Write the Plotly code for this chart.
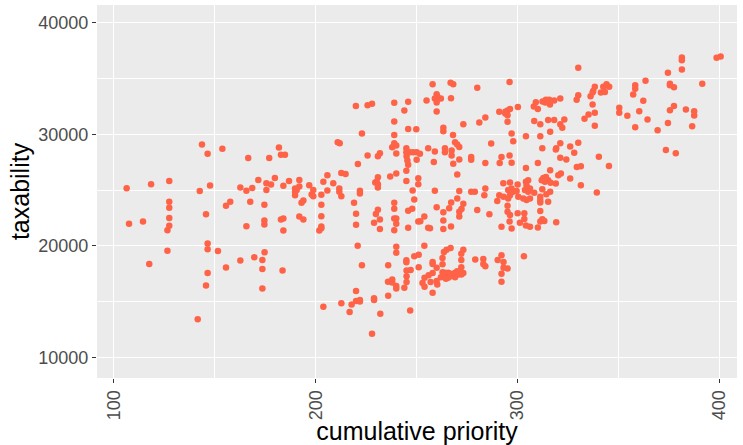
import plotly.graph_objects as go

cumulative_priority = [
    143.7, 153.8,
    146.5, 166.6, 177.0, 106.4, 118.5, 127.5, 147.7, 142.6, 162.7, 165.7, 168.6, 171.6, 175.6, 175.6,
    127.5, 127.5, 155.6, 157.7, 167.6, 174.6, 127.5, 127.5, 126.6, 107.6, 114.5, 145.7, 165.7, 174.6, 174.6, 146.5,
    126.6, 146.5, 151.6, 117.6, 146.5, 155.6, 162.7, 169.6, 173.6, 174.7, 173.6, 145.7, 173.6, 141.6,
    219.9, 225.7, 227.9, 238.9, 245.8, 254.9, 243.9, 238.9, 222.9, 245.8, 249.8, 238.9, 210.9, 211.9, 238.9, 239.9,
    237.9, 181.8, 244.9, 255.7,
    182.8, 184.8, 225.7, 230.8, 231.8, 220.9, 239.9, 244.9, 246.7, 248.3, 250.0, 251.6, 245.0, 245.4, 250.0, 245.8,
    244.9, 179.8, 177.9, 186.8, 191.9, 184.0, 191.9, 196.8, 205.8, 203.8, 208.7, 212.7, 214.8, 230.8, 230.2, 230.8,
    229.5, 230.8, 236.9, 239.9, 244.9, 250.8, 250.8, 189.8, 189.8, 189.8, 190.6, 198.8, 198.0, 198.8, 202.8, 205.8,
    211.7, 211.7, 212.7, 221.9, 221.9, 248.0, 248.8, 193.9, 193.0, 202.8, 219.0, 238.9, 238.9, 245.8, 247.8, 230.8,
    229.8, 220.0, 202.8, 191.9, 193.9, 182.8, 184.0, 231.8, 238.9, 239.9, 228.9, 239.9, 250.8, 251.8, 253.8, 220.0,
    202.8, 202.8, 201.8, 184.0, 231.8, 238.9, 245.8, 255.7, 220.8, 239.9, 253.8,
    239.9, 183.6, 222.9, 235.9, 244.9, 244.9, 248.8, 251.0, 251.0, 245.0, 247.0, 245.0, 245.0, 235.8, 237.9, 237.9,
    239.9, 239.9, 243.9, 253.9, 255.9, 252.9, 253.9, 220.0, 212.7, 217.8, 220.0, 221.9, 221.9, 203.8, 216.8, 228.9,
    228.9, 235.9, 232.0, 246.8, 227.9,
    330.0, 257.9, 266.8, 268.1, 296.0, 280.0, 259.9, 259.0, 260.7, 262.0, 259.9, 260.2, 267.0, 259.9, 329.2, 330.0,
    321.1, 318.1, 312.3, 314.0, 315.6, 313.7, 316.0, 309.0, 308.0, 310.0, 300.1, 290.9, 293.9, 295.0, 296.2, 295.0,
    293.9, 284.0, 281.0, 273.1, 295.0, 308.2, 315.1, 318.1, 311.2, 323.1, 321.1, 322.1, 316.1, 263.2, 263.2, 268.0,
    297.0, 297.8, 304.1, 311.2, 286.9, 269.0, 270.1, 271.1, 264.0, 312.2, 319.1, 321.1, 326.0, 330.0,
    259.0, 264.0, 267.3, 267.3, 268.1, 258.5, 271.1, 277.0, 277.0, 284.0, 291.1, 292.0, 296.0, 297.0, 318.9, 328.0,
    321.1, 324.1, 310.0, 304.1, 329.3, 270.1, 316.1, 321.4, 320.1, 326.0, 312.7, 314.0, 315.1, 313.5, 311.9, 316.3,
    318.9, 304.1, 305.2, 304.4, 306.1, 303.6, 305.2, 300.0, 296.2, 292.9, 297.0, 295.3, 297.8, 299.5, 296.2, 295.3,
    300.3, 302.8, 304.4, 306.1, 308.2, 312.2, 311.2, 311.2, 311.2, 314.2, 316.1, 315.1, 259.0, 271.1, 277.0, 278.8,
    284.0, 283.5, 290.9, 289.9, 293.0, 267.1, 266.1, 270.1, 273.1, 272.2, 271.1, 259.9, 263.2, 280.0, 286.0, 295.0,
    295.0, 296.2, 300.0, 303.3, 303.3, 311.2, 312.2, 313.2, 311.2, 319.1, 263.2, 271.1, 296.0, 301.1, 304.1, 306.1,
    310.0, 292.0, 297.0, 267.0, 263.2, 256.6,
    263.5, 264.8, 266.8, 273.1, 272.1, 257.9, 257.9, 262.8, 262.8, 272.1, 272.1, 259.9, 257.9, 256.9, 259.9, 260.2,
    257.9, 262.8, 264.0, 265.6, 266.8, 262.0, 264.0, 264.5, 265.6, 266.8, 269.0, 269.0, 270.1, 271.1, 273.1, 272.1,
    270.6, 279.0, 283.0, 283.0, 284.0, 290.1, 292.0, 293.0, 293.0, 295.0, 292.0, 292.0, 303.1,
    381.3, 381.3, 398.5, 400.5, 381.3, 374.4, 363.3, 358.2, 358.2, 357.2, 375.4, 375.4, 377.4, 391.4, 338.2, 337.4,
    337.1, 342.4, 344.0, 345.3, 341.2, 343.2, 336.1, 362.2, 337.1, 350.3, 350.3, 360.2, 375.4, 377.4, 383.3, 387.4,
    387.4, 338.2, 335.1, 333.1, 354.3, 364.3, 338.2, 358.2, 369.3, 374.4, 386.4,
    373.4, 378.3, 340.2, 345.2, 331.3, 331.3, 339.2,
]

taxability = [
    29080, 28700,
    28250, 27870, 27870, 25170, 25530, 25820, 25410, 24910, 25230, 24940, 25200, 25910, 25620, 25000,
    23960, 23430, 23600, 23960, 23960, 23690, 22510, 21800, 21410, 21980, 22180, 22830, 21770, 22270, 21920, 20230,
    19580, 19700, 19550, 18390, 17570, 18070, 18690, 18990, 18750, 19430, 17950, 16470, 16200, 13450,
    32540, 32600, 32720, 32810, 32900, 33020, 32130, 31150, 30060, 30470, 30440, 29940, 29290, 29200, 29200, 28990,
    28840, 28810, 28750, 28750,
    28160, 28160, 28100, 28040, 28310, 27330, 28280, 28400, 28400, 28400, 28400, 28250, 28040, 27660, 27720, 27270,
    26740, 26090, 25500, 25820, 25910, 25380, 25320, 25440, 26330, 25740, 25620, 26530, 26450, 26150, 25740, 25530,
    25680, 25230, 26210, 26480, 25820, 26060, 25530, 25140, 24850, 24550, 25000, 25000, 24610, 24460, 24580, 24970,
    25140, 24850, 24460, 24940, 24700, 24970, 24170, 24080, 23870, 23690, 23870, 23870, 23340, 23160, 23340, 23250,
    22860, 22890, 22660, 22630, 22360, 22360, 22450, 22360, 22450, 22450, 22070, 21980, 22180, 22210, 22630, 21890,
    21740, 21590, 21380, 21380, 21530, 21410, 21620, 21620, 20020, 19930, 20020,
    19400, 17800, 18280, 18280, 18720, 18540, 19080, 19220, 18100, 17800, 17860, 17300, 16770, 16800, 17000, 16740,
    16410, 16200, 16260, 17150, 17390, 16680, 16350, 15970, 14870, 14750, 15080, 15170, 15020, 14550, 14100, 15320,
    15170, 15550, 13930, 14220, 12150,
    35950, 34470, 34620, 34470, 34670, 34170, 33580, 33190, 33190, 33190, 32840, 33370, 33220, 32040, 33080, 33490,
    33190, 33020, 32930, 33080, 33080, 32840, 32660, 32870, 32480, 32250, 32450, 32010, 32010, 32130, 32250, 31710,
    31860, 31510, 31060, 30890, 31120, 31180, 31270, 31270, 30890, 31330, 30890, 30590, 30230, 30590, 30260, 29940,
    30060, 29380, 29820, 29820, 29170, 29290, 29080, 28870, 28750, 28750, 28750, 29200, 28900, 29230,
    28460, 28400, 28550, 28100, 27360, 27510, 27750, 27960, 27720, 27420, 27420, 27960, 28100, 27450, 28640, 28340,
    27900, 27750, 27420, 26980, 27070, 26390, 26770, 26480, 26330, 26030, 26090, 26180, 25880, 25740, 25880, 25650,
    25590, 25740, 25880, 25440, 25140, 25000, 24850, 25500, 25680, 25620, 25140, 25000, 24850, 24910, 24550, 24260,
    24400, 24260, 24110, 24260, 24760, 25080, 24400, 24110, 23900, 24640, 24850, 23960, 24940, 24910, 24850, 24850,
    25140, 24550, 24550, 24020, 24400, 23900, 23370, 24260, 23780, 23310, 23070, 23460, 23010, 23220, 22830, 23600,
    23070, 22780, 22920, 22920, 22420, 23130, 22390, 22240, 22180, 22120, 22270, 22630, 22180, 22070, 21830, 21710,
    21650, 21710, 21560, 21740, 21530, 21590,
    19460, 19670, 19815, 19670, 19310, 18570, 18390, 18930, 18370, 18750, 18100, 18040, 17570, 16770, 16860, 16560,
    15820, 17650, 17600, 17600, 17510, 17210, 17210, 17060, 17150, 17300, 17600, 17210, 17740, 17600, 17570, 17450,
    17450, 18780, 18840, 18390, 18190, 18750, 19160, 18570, 18040, 17980, 17510, 16800, 19080,
    36870, 36630, 36840, 36950, 35800, 35500, 34790, 34380, 34080, 33550, 34530, 34380, 34200, 34530, 34260, 33880,
    33730, 34260, 34470, 34260, 33730, 33790, 33400, 32990, 32660, 32370, 31920, 32070, 32160, 32540, 32220, 32070,
    31680, 31920, 31770, 31390, 31660, 31330, 30770, 30620, 30350, 31000, 30710,
    28580, 28310, 27990, 27160, 27130, 25440, 24790,
]

x_ticks = [100, 200, 300, 400]
y_ticks = [10000, 20000, 30000, 40000]

fig = go.Figure()
fig.add_trace(go.Scatter(
    x=cumulative_priority, y=taxability, mode="markers",
    marker=dict(color="#FF6347", size=6.5, line=dict(width=0)),
    showlegend=False, hoverinfo="skip",
))

font_family = "Liberation Sans, Arial, sans-serif"
fig.update_layout(
    width=743, height=445,
    margin=dict(l=97, r=6, t=5, b=64),
    paper_bgcolor="white", plot_bgcolor="#EBEBEB",
    font=dict(family=font_family),
)
fig.update_xaxes(
    range=[91.73, 408.6], tickvals=x_ticks, ticktext=[str(v) for v in x_ticks],
    tickangle=-90, tickfont=dict(size=18, color="#4D4D4D", family=font_family),
    ticks="outside", ticklen=4, tickcolor="#333333", tickwidth=1,
    showgrid=True, gridcolor="white", gridwidth=1.2, zeroline=False, showline=False,
    minor=dict(tickvals=[150, 250, 350], showgrid=True, gridcolor="white", gridwidth=0.6, ticks=""),
    title=dict(text="cumulative priority", font=dict(size=25, color="black", family=font_family), standoff=2),
)
fig.update_yaxes(
    range=[8182, 41570], tickvals=y_ticks, ticktext=[str(v) for v in y_ticks],
    tickfont=dict(size=18, color="#4D4D4D", family=font_family),
    ticks="outside", ticklen=4, tickcolor="#333333", tickwidth=1,
    showgrid=True, gridcolor="white", gridwidth=1.2, zeroline=False, showline=False,
    minor=dict(tickvals=[15000, 25000, 35000], showgrid=True, gridcolor="white", gridwidth=0.6, ticks=""),
    title=dict(text="taxability", font=dict(size=25, color="black", family=font_family), standoff=1),
)
fig.write_html("out.html")
